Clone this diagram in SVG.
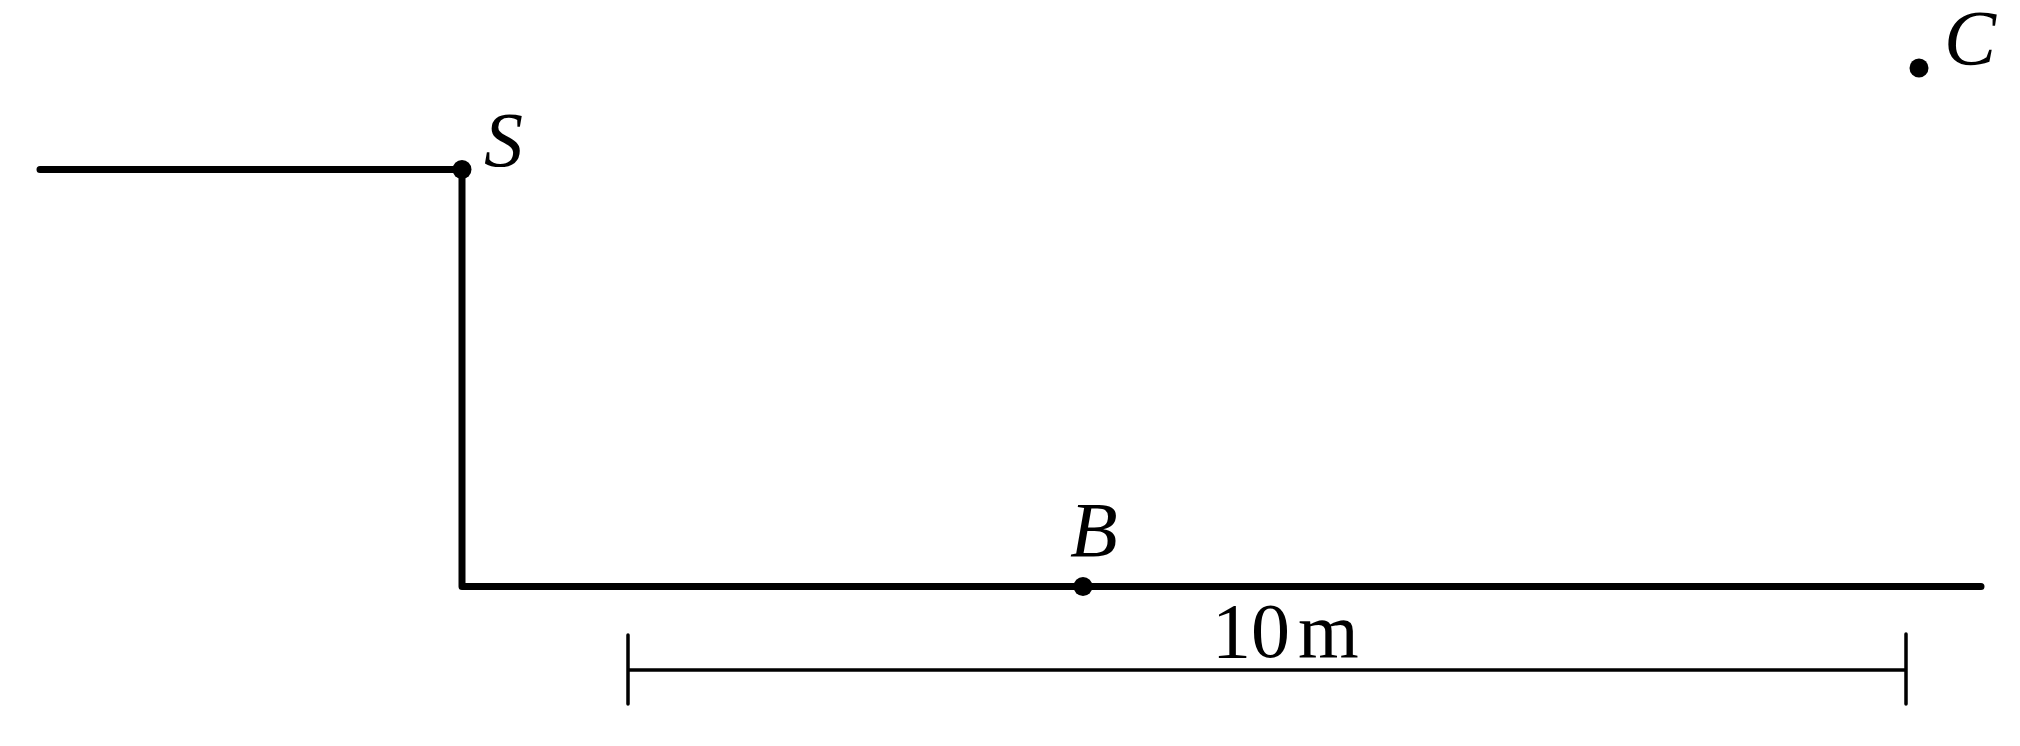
<svg xmlns="http://www.w3.org/2000/svg" width="2020" height="746" viewBox="0 0 2020 746">
<style>
.thick{stroke:#000;stroke-width:7;fill:none;stroke-linecap:round;stroke-linejoin:round}
.thin{stroke:#000;stroke-width:3.5;fill:none;stroke-linecap:round}
.dot{fill:#000}
.lab{font-family:"Liberation Serif","DejaVu Serif",serif;font-style:italic;font-size:78px;fill:#000}
.dim{font-family:"Liberation Serif","DejaVu Serif",serif;font-size:78px;fill:#000}
</style>
<rect width="2020" height="746" fill="#fff"/>
<g id="connectors">
<path class="thick" d="M40,169.5 H462 V586.5 H1981"/>
<path class="thin" d="M628,670 H1906 M628,635 V704 M1906,634 V704"/>
</g>
<g id="node-S"><circle class="dot" cx="462" cy="169.5" r="9.5"/><text class="lab" x="484" y="166">S</text></g>
<g id="node-B"><circle class="dot" cx="1083" cy="586.5" r="9.5"/><text class="lab" x="1070" y="556">B</text></g>
<g id="node-C"><circle class="dot" cx="1919" cy="68" r="9.5"/><text class="lab" x="1944" y="64" font-size="70">C</text></g>
<g id="dimension-label"><text class="dim" x="1212" y="657">10<tspan dx="8">m</tspan></text></g>
</svg>
